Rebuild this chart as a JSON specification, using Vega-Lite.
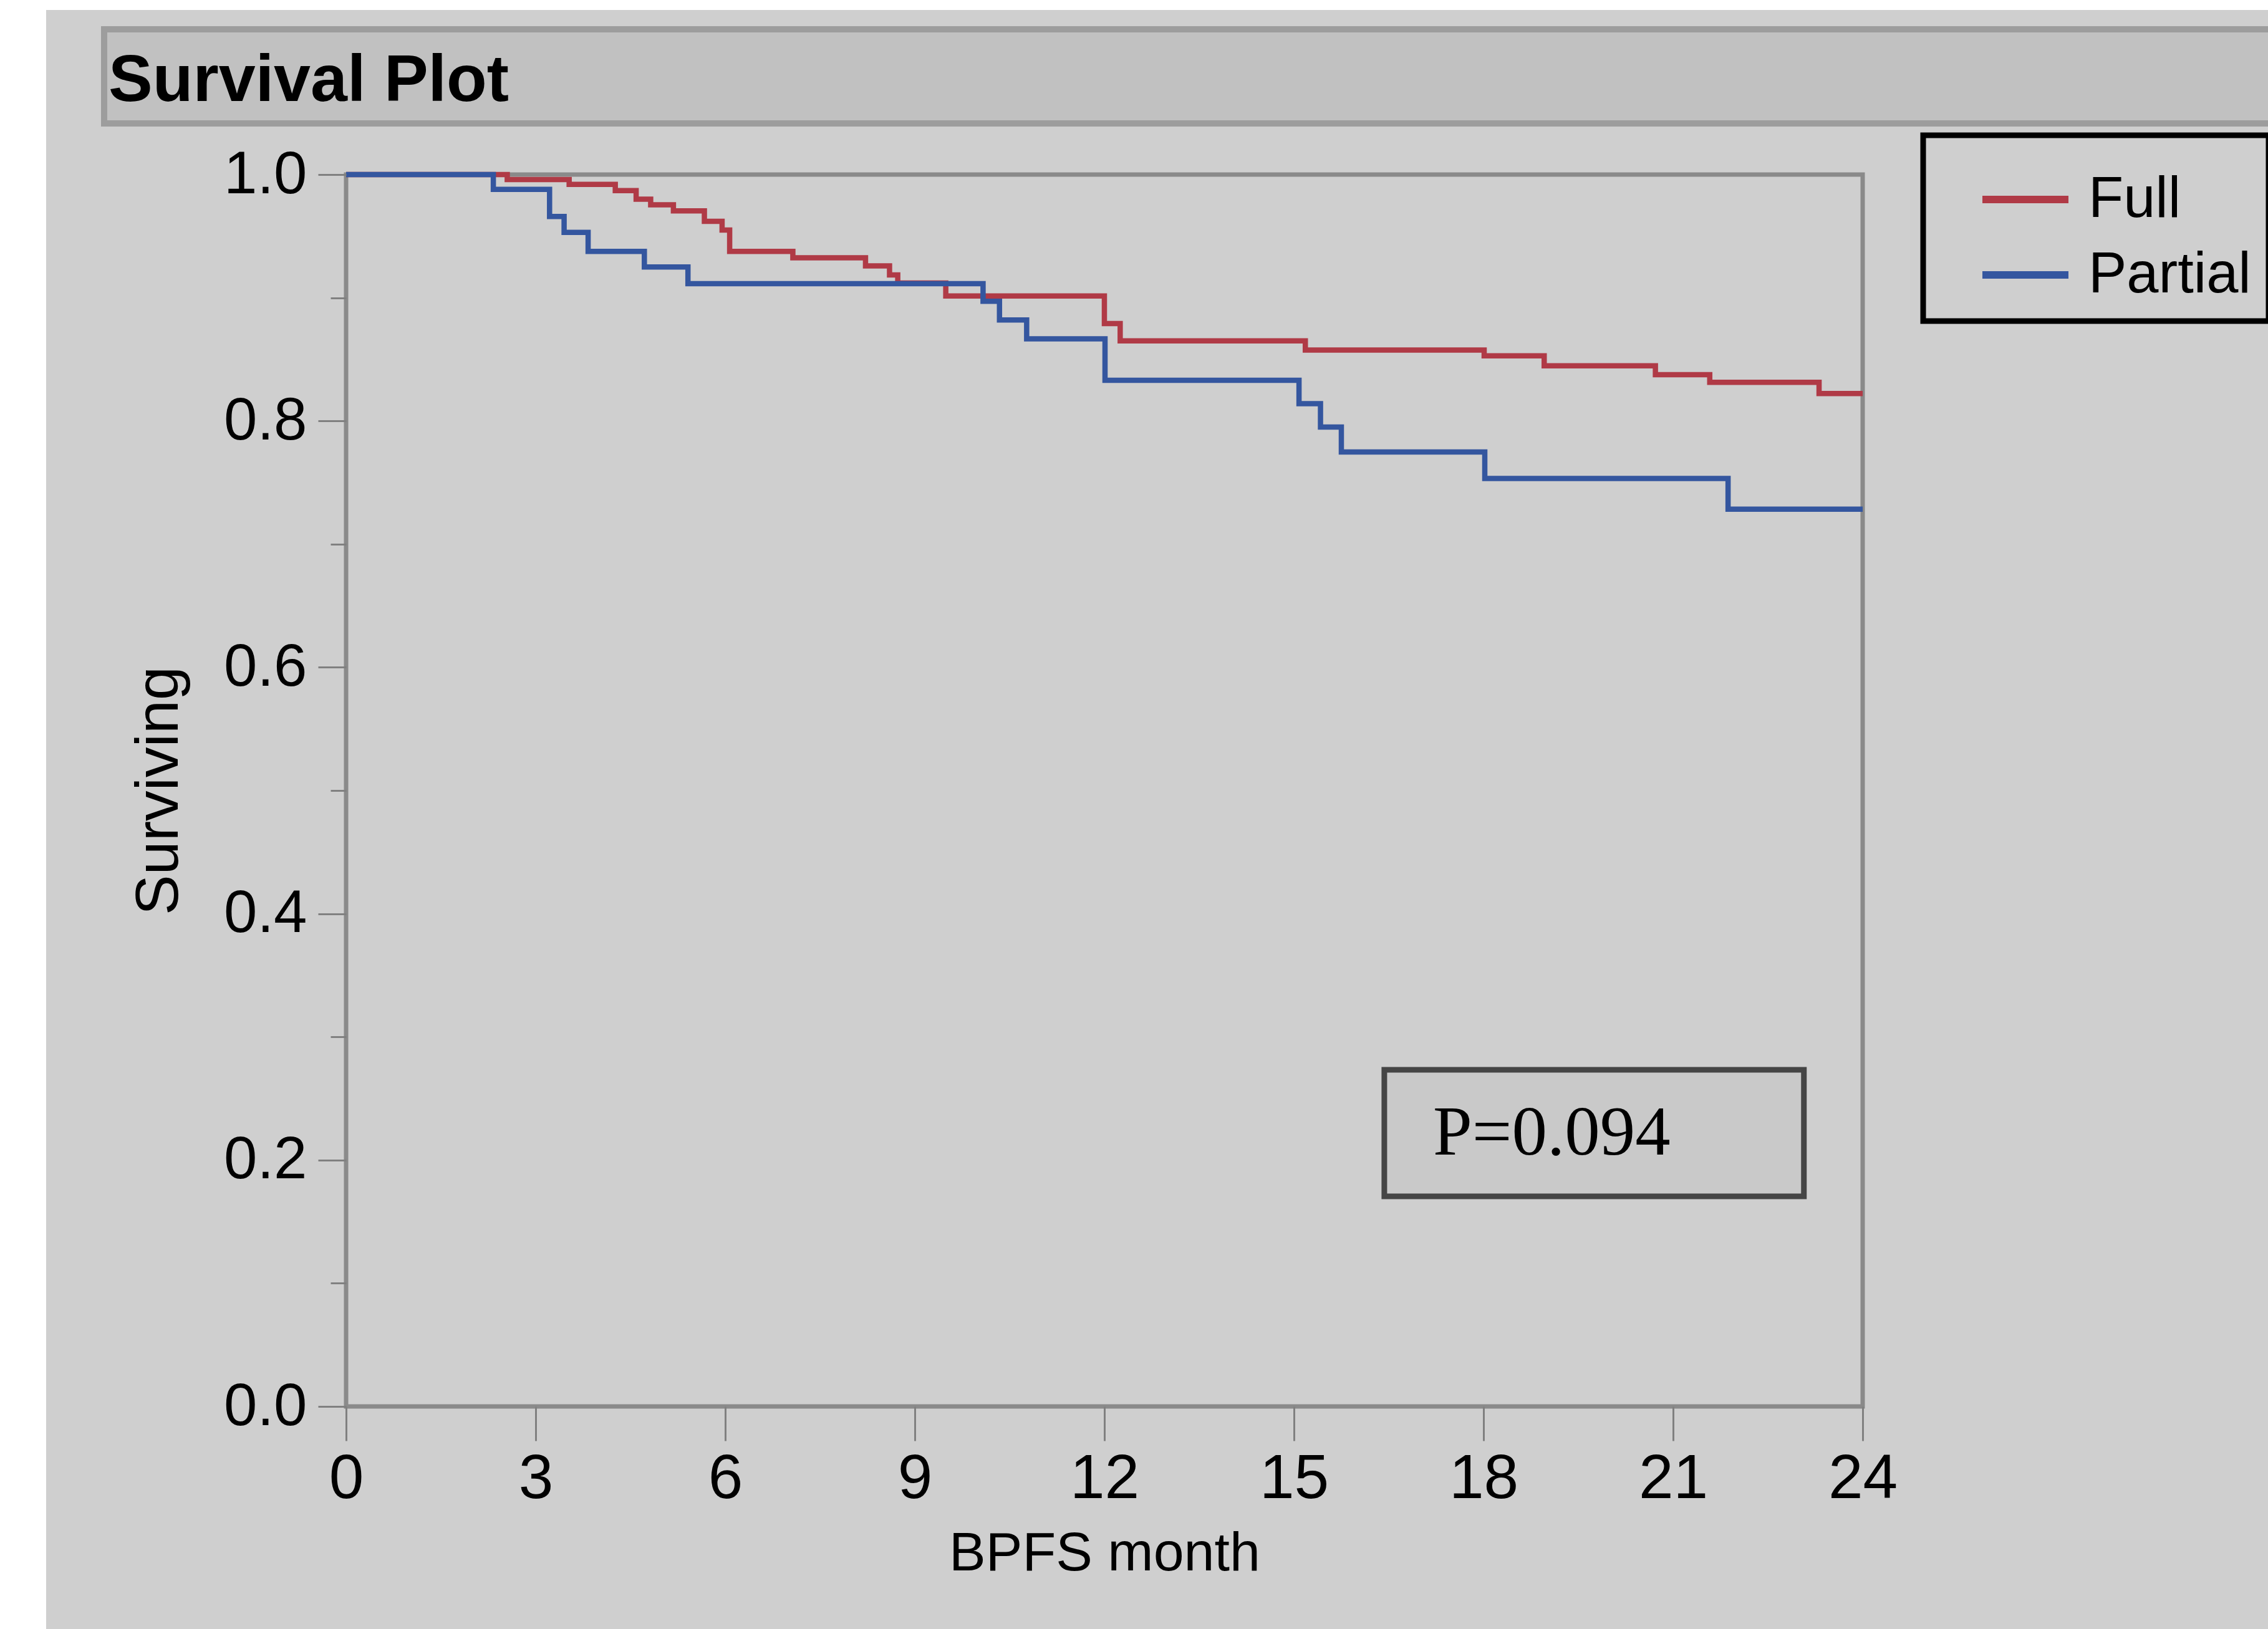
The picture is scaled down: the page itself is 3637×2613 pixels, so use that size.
{
  "$schema": "https://vega.github.io/schema/vega-lite/v6.json",
  "autosize": {"type": "none"},
  "padding": {"left": 555, "top": 280, "right": 650, "bottom": 357},
  "width": 2432,
  "height": 1976,
  "background": "white",
  "config": {
    "view": {"stroke": null, "fill": null},
    "font": "Liberation Sans",
    "legend": {"strokeWidth": 9}
  },
  "layer": [
    {
      "data": {"values": [{"part": "backdrop"}]},
      "mark": {"type": "rect", "fill": "#cfcfcf"},
      "encoding": {
        "x": {"datum": -4.747, "type": "quantitative", "scale": {"domain": [0, 24], "nice": false, "zero": false}, "axis": {"title": "BPFS month"}},
        "x2": {"datum": 32},
        "y": {"datum": 1.1336, "type": "quantitative", "scale": {"domain": [0, 1], "nice": false, "zero": false}, "axis": {"title": "Surviving"}},
        "y2": {"datum": -0.2}
      }
    },
    {
      "data": {"values": [{"part": "titlebar"}]},
      "mark": {"type": "rect", "fill": "#c1c1c1", "stroke": "#9d9d9d", "strokeWidth": 10},
      "encoding": {
        "x": {"datum": -3.829, "type": "quantitative", "scale": {"domain": [0, 24], "nice": false, "zero": false}, "axis": {"title": "BPFS month"}},
        "x2": {"datum": 32},
        "y": {"datum": 1.1179, "type": "quantitative", "scale": {"domain": [0, 1], "nice": false, "zero": false}, "axis": {"title": "Surviving"}},
        "y2": {"datum": 1.0415}
      }
    },
    {
      "data": {"values": [{"label": "Survival Plot"}]},
      "mark": {"type": "text", "align": "left", "baseline": "alphabetic", "font": "Liberation Sans", "fontWeight": "bold", "fontSize": 106, "color": "black"},
      "encoding": {
        "text": {"field": "label"},
        "x": {"datum": -3.76, "type": "quantitative", "scale": {"domain": [0, 24], "nice": false, "zero": false}, "axis": {"title": "BPFS month"}},
        "y": {"datum": 1.0597, "type": "quantitative", "scale": {"domain": [0, 1], "nice": false, "zero": false}, "axis": {"title": "Surviving"}}
      }
    },
    {
      "data": {"values": [{"part": "frame"}]},
      "mark": {"type": "rect", "filled": false, "stroke": "#8a8a8a", "strokeWidth": 7},
      "encoding": {
        "x": {"datum": 0, "type": "quantitative", "scale": {"domain": [0, 24], "nice": false, "zero": false}, "axis": {"title": "BPFS month"}},
        "x2": {"datum": 24},
        "y": {"datum": 0, "type": "quantitative", "scale": {"domain": [0, 1], "nice": false, "zero": false}, "axis": {"title": "Surviving"}},
        "y2": {"datum": 1}
      }
    },
    {
      "data": {"values": [{"part": "pbox"}]},
      "mark": {"type": "rect", "fill": "#c9c9c9", "stroke": "#454545", "strokeWidth": 9},
      "encoding": {
        "x": {"datum": 16.43, "type": "quantitative", "scale": {"domain": [0, 24], "nice": false, "zero": false}, "axis": {"title": "BPFS month"}},
        "x2": {"datum": 23.07},
        "y": {"datum": 0.1705, "type": "quantitative", "scale": {"domain": [0, 1], "nice": false, "zero": false}, "axis": {"title": "Surviving"}},
        "y2": {"datum": 0.2733}
      }
    },
    {
      "data": {"values": [{"label": "P=0.094"}]},
      "mark": {"type": "text", "align": "left", "baseline": "alphabetic", "font": "Liberation Serif", "fontSize": 113, "color": "black"},
      "encoding": {
        "text": {"field": "label"},
        "x": {"datum": 17.2, "type": "quantitative", "scale": {"domain": [0, 24], "nice": false, "zero": false}, "axis": {"title": "BPFS month"}},
        "y": {"datum": 0.2045, "type": "quantitative", "scale": {"domain": [0, 1], "nice": false, "zero": false}, "axis": {"title": "Surviving"}}
      }
    },
    {
      "data": {
        "values": [
          {"group": "Full", "month": 0, "surv": 1.0},
          {"group": "Full", "month": 2.55, "surv": 0.996},
          {"group": "Full", "month": 3.53, "surv": 0.992},
          {"group": "Full", "month": 4.26, "surv": 0.987},
          {"group": "Full", "month": 4.59, "surv": 0.98},
          {"group": "Full", "month": 4.82, "surv": 0.9755},
          {"group": "Full", "month": 5.18, "surv": 0.9705},
          {"group": "Full", "month": 5.67, "surv": 0.962},
          {"group": "Full", "month": 5.95, "surv": 0.955},
          {"group": "Full", "month": 6.07, "surv": 0.9376},
          {"group": "Full", "month": 7.07, "surv": 0.9325},
          {"group": "Full", "month": 8.22, "surv": 0.9258},
          {"group": "Full", "month": 8.6, "surv": 0.9185},
          {"group": "Full", "month": 8.73, "surv": 0.912},
          {"group": "Full", "month": 9.49, "surv": 0.9015},
          {"group": "Full", "month": 12.0, "surv": 0.879},
          {"group": "Full", "month": 12.25, "surv": 0.865},
          {"group": "Full", "month": 15.18, "surv": 0.8575},
          {"group": "Full", "month": 18.01, "surv": 0.8528},
          {"group": "Full", "month": 18.96, "surv": 0.8448},
          {"group": "Full", "month": 20.72, "surv": 0.8375},
          {"group": "Full", "month": 21.58, "surv": 0.8313},
          {"group": "Full", "month": 23.31, "surv": 0.8222},
          {"group": "Full", "month": 24.0, "surv": 0.8222},
          {"group": "Partial", "month": 0, "surv": 1.0},
          {"group": "Partial", "month": 2.33, "surv": 0.988},
          {"group": "Partial", "month": 3.22, "surv": 0.966},
          {"group": "Partial", "month": 3.45, "surv": 0.953},
          {"group": "Partial", "month": 3.83, "surv": 0.9376},
          {"group": "Partial", "month": 4.72, "surv": 0.925},
          {"group": "Partial", "month": 5.41, "surv": 0.9114},
          {"group": "Partial", "month": 10.08, "surv": 0.8971},
          {"group": "Partial", "month": 10.34, "surv": 0.8819},
          {"group": "Partial", "month": 10.77, "surv": 0.8667},
          {"group": "Partial", "month": 12.01, "surv": 0.833},
          {"group": "Partial", "month": 15.08, "surv": 0.814},
          {"group": "Partial", "month": 15.42, "surv": 0.795},
          {"group": "Partial", "month": 15.75, "surv": 0.7748},
          {"group": "Partial", "month": 18.02, "surv": 0.7533},
          {"group": "Partial", "month": 21.87, "surv": 0.7284},
          {"group": "Partial", "month": 24.0, "surv": 0.7284}
        ]
      },
      "mark": {"type": "line", "interpolate": "step-after", "strokeWidth": 8.5},
      "encoding": {
        "x": {
          "field": "month", "type": "quantitative",
          "scale": {"domain": [0, 24], "nice": false, "zero": false},
          "axis": {
            "values": [0, 3, 6, 9, 12, 15, 18, 21, 24],
            "format": "d",
            "domain": false, "grid": false,
            "tickSize": 55, "tickWidth": 3, "tickColor": "#808080",
            "labelFont": "Liberation Sans", "labelFontSize": 100, "labelColor": "black",
            "labelPadding": 12, "labelFlush": false, "labelOverlap": false,
            "title": "BPFS month", "titleFont": "Liberation Sans", "titleFontSize": 88,
            "titleFontWeight": "normal", "titleColor": "black", "titlePadding": 26,
            "zindex": 1
          }
        },
        "y": {
          "field": "surv", "type": "quantitative",
          "scale": {"domain": [0, 1], "nice": false, "zero": false},
          "axis": {
            "values": [0, 0.1, 0.2, 0.3, 0.4, 0.5, 0.6, 0.7, 0.8, 0.9, 1.0],
            "labelExpr": "round(datum.value*10) % 2 == 0 ? format(datum.value, '.1f') : ''",
            "domain": false, "grid": false,
            "tickSize": {"condition": {"test": "round(datum.value*10) % 2 == 1", "value": 25}, "value": 45},
            "tickWidth": 3, "tickColor": "#808080",
            "labelFont": "Liberation Sans", "labelFontSize": 96, "labelColor": "black",
            "labelPadding": 18, "labelFlush": false, "labelOverlap": false,
            "title": "Surviving", "titleFont": "Liberation Sans", "titleFontSize": 97,
            "titleFontWeight": "normal", "titleColor": "black", "titlePadding": 54,
            "zindex": 1
          }
        },
        "color": {
          "field": "group", "type": "nominal",
          "scale": {"domain": ["Full", "Partial"], "range": ["#b03a46", "#34569f"]},
          "legend": {
            "orient": "none", "legendX": 2529, "legendY": -63, "direction": "vertical",
            "title": null, "symbolType": "stroke", "symbolSize": 19044, "symbolStrokeWidth": 12,
            "labelFont": "Liberation Sans", "labelFontSize": 92, "labelColor": "black",
            "labelLimit": 1000, "padding": 28, "symbolOffset": 61, "labelOffset": 26,
            "strokeColor": "black", "fillColor": "#cfcfcf", "rowPadding": 0
          }
        }
      }
    }
  ]
}
